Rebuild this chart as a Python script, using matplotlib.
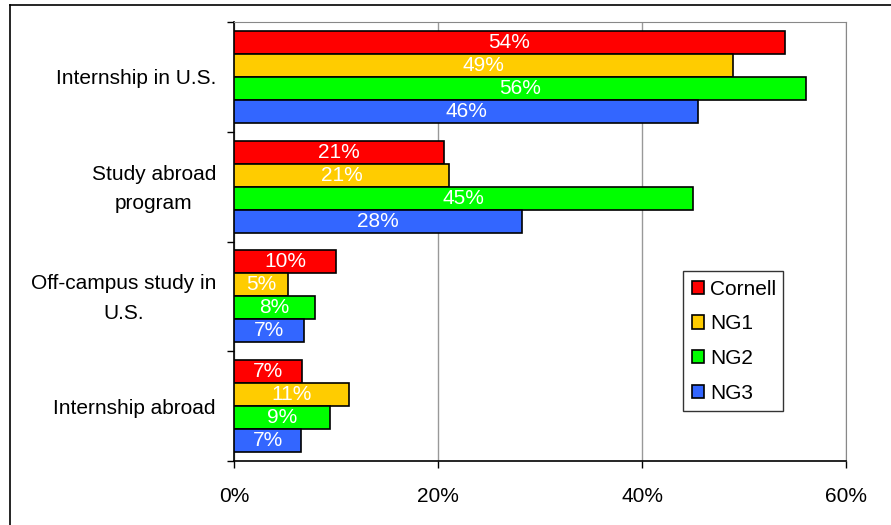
import numpy as np
import matplotlib.pyplot as plt
import matplotlib.transforms as mtransforms
from matplotlib.lines import Line2D

plt.rcParams['font.family'] = ['Liberation Sans', 'DejaVu Sans']

# categories top to bottom
categories = ['Internship in U.S.', 'Study abroad\nprogram', 'Off-campus study in\nU.S.', 'Internship abroad']
series = ['Cornell', 'NG1', 'NG2', 'NG3']
colors = ['#ff0000', '#ffcc00', '#00ff00', '#3366ff']

cornell = [54.0, 20.6, 10.0, 6.7]
ng1 = [48.9, 21.1, 5.3, 11.3]
ng2 = [56.1, 45.0, 7.9, 9.4]
ng3 = [45.5, 28.2, 6.9, 6.6]
values = [cornell, ng1, ng2, ng3]

fs = 15

fig = plt.figure(figsize=(8.91, 5.25), dpi=100)
ax = fig.add_axes([234/891, 1-461/525, 612/891, 439/525])

# outer frame (left and top only visible)
fig.add_artist(Line2D([9.5/891, 9.5/891], [0, 1-5/525], color='black', lw=1.2, transform=fig.transFigure))
fig.add_artist(Line2D([9.5/891, 1], [1-5/525, 1-5/525], color='black', lw=1.2, transform=fig.transFigure))

n = len(categories)
h = 0.21
centers = np.arange(n)
for i, (name, vals, c) in enumerate(zip(series, values, colors)):
    y = centers - 0.315 + i * h
    bars = ax.barh(y, vals, height=h, color=c, edgecolor='black', linewidth=1.2, label=name, zorder=3)
    for b, v in zip(bars, vals):
        ax.text(v / 2, b.get_y() + h / 2, f'{round(v):.0f}%', ha='center', va='center',
                color='white', fontsize=fs, zorder=4)

ax.set_ylim(n - 0.5, -0.5)
ax.set_xlim(0, 60)
ax.set_xticks([0, 20, 40, 60])
ax.set_xticklabels(['0%', '20%', '40%', '60%'], fontsize=fs)
ax.set_yticks(centers)
ax.set_yticklabels(categories, fontsize=fs, linespacing=1.7)
ax.set_yticks(np.arange(n + 1) - 0.5, minor=True)
ax.tick_params(axis='y', which='major', length=0, pad=13)
ax.tick_params(axis='y', which='minor', length=5, direction='out', width=1)
ax.tick_params(axis='x', length=5, direction='out', width=1, pad=14)
shift = mtransforms.ScaledTranslation(0, 5/100, fig.dpi_scale_trans)
for lbl in ax.get_yticklabels():
    lbl.set_multialignment('center')
    if '\n' in lbl.get_text():
        lbl.set_transform(lbl.get_transform() + shift)
ax.xaxis.grid(True, color='#999999', lw=1, zorder=0)

ax.spines['top'].set_color('#888888')
ax.spines['right'].set_color('#888888')
ax.spines['left'].set_linewidth(1.2)
ax.spines['bottom'].set_linewidth(1.2)

leg = ax.legend(loc='lower left', bbox_to_anchor=(0.734, 0.114, 0.163, 0.321), mode='expand',
                fontsize=fs, frameon=True, fancybox=False, edgecolor='black',
                handlelength=0.6, handleheight=0.6, handletextpad=0.3, labelspacing=0.75,
                borderaxespad=0, borderpad=0.4)
leg.get_frame().set_linewidth(1)

fig.savefig('out.png', dpi=100)
